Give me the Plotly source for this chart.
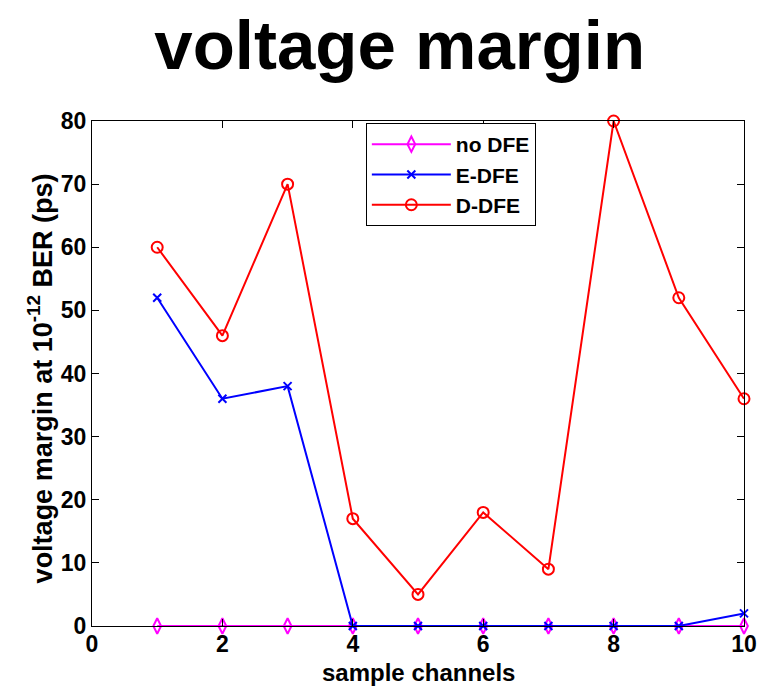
import plotly.graph_objects as go

channels = [1, 2, 3, 4, 5, 6, 7, 8, 9, 10]
no_dfe = [0, 0, 0, 0, 0, 0, 0, 0, 0, 0]
e_dfe = [52, 36, 38, 0, 0, 0, 0, 0, 0, 2]
d_dfe = [60, 46, 70, 17, 5, 18, 9, 80, 52, 36]

x_ticks = [0, 2, 4, 6, 8, 10]
y_ticks = [0, 10, 20, 30, 40, 50, 60, 70, 80]

x_title = "<b>sample channels</b>"
y_title = "<b>voltage margin at 10<sup>-12</sup> BER (ps)</b>"

FONT = "Liberation Sans, Arial, sans-serif"

fig = go.Figure()
fig.add_trace(go.Scatter(x=channels, y=no_dfe, mode="lines+markers", name="no DFE",
                         line=dict(color="#ff00ff", width=2),
                         marker=dict(symbol="diamond-tall-open", size=11, color="#ff00ff",
                                     line=dict(width=2, color="#ff00ff")),
                         cliponaxis=False))
fig.add_trace(go.Scatter(x=channels, y=e_dfe, mode="lines+markers", name="E-DFE",
                         line=dict(color="#0000ff", width=2),
                         marker=dict(symbol="x-thin-open", size=8, color="#0000ff",
                                     line=dict(width=2, color="#0000ff")),
                         cliponaxis=False))
fig.add_trace(go.Scatter(x=channels, y=d_dfe, mode="lines+markers", name="D-DFE",
                         line=dict(color="#ff0000", width=2),
                         marker=dict(symbol="circle-open", size=11, color="#ff0000",
                                     line=dict(width=2, color="#ff0000")),
                         cliponaxis=False))

axis_common = dict(showgrid=False, zeroline=False, showline=True, linecolor="black",
                   linewidth=1, mirror="ticks", ticks="inside", ticklen=7,
                   tickcolor="black", automargin=False,
                   tickfont=dict(family=FONT, size=23, color="black", weight="bold"))

fig.update_layout(
    width=757, height=687,
    margin=dict(l=92, r=13, t=121, b=61),
    paper_bgcolor="white", plot_bgcolor="white",
    font=dict(family=FONT, color="black"),
    title=dict(text="<b>voltage margin</b>", x=0.528, xanchor="center",
               y=0.935, yanchor="middle", yref="container",
               font=dict(family=FONT, size=69, color="black")),
    xaxis=dict(range=[0, 10], tickvals=x_ticks, tickformat="d", ticklabelstandoff=-3,
               **axis_common),
    yaxis=dict(range=[0, 80], tickvals=y_ticks, tickformat="d",
               **axis_common),
    legend=dict(x=0.42, y=0.996, xanchor="left", yanchor="top",
                bordercolor="black", borderwidth=1, bgcolor="white",
                font=dict(family=FONT, size=21, color="black", weight="bold"),
                tracegroupgap=0, itemwidth=79),
    showlegend=True,
    annotations=[
        dict(text=x_title, xref="paper", yref="paper", x=0.5, y=-0.092,
             xanchor="center", yanchor="middle", showarrow=False,
             font=dict(family=FONT, size=24, color="black")),
        dict(text=y_title, xref="paper", yref="paper", x=-0.08, y=0.49,
             xanchor="center", yanchor="middle", showarrow=False, textangle=-90,
             font=dict(family=FONT, size=27, color="black")),
    ],
)

fig.write_html("out.html")
